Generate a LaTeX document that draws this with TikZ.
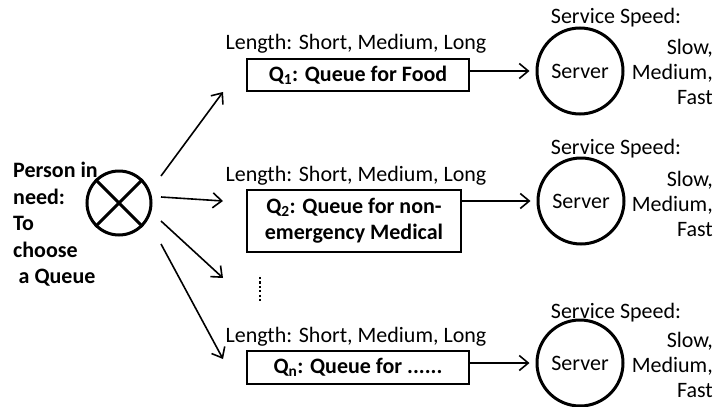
\documentclass[tikz,border=0pt]{standalone}
\usepackage{fontspec}
\setmainfont{Carlito}
\usetikzlibrary{arrows.meta}
\begin{document}
\begin{tikzpicture}[x=1pt,y=-1pt,
  every node/.style={font=\fontsize{22}{26}\selectfont, inner sep=0pt},
  qbox/.style={draw, line width=2pt, font=\fontsize{22}{26}\selectfont\bfseries, align=center, anchor=north west},
  srv/.style={draw, circle, line width=3pt, minimum size=86pt},
  lbl/.style={anchor=center},
  spd/.style={align=right, anchor=north east, font=\fontsize{22}{25}\selectfont},
  arr/.style={line width=1.6pt, -{Straight Barb[length=9pt,width=15pt,line width=1.6pt]}}
]
\useasboundingbox (0,0) rectangle (718,407);
% chooser
\node[draw, circle, line width=3pt, minimum size=64pt] (c) at (119,203) {};
\draw[line width=3pt] (c.north west) -- (c.south east) (c.north east) -- (c.south west);
\node[anchor=north west, align=left, font=\fontsize{22}{26.5}\selectfont\bfseries] (p) at (13,162)
  {Person in\\need:\\To\\choose\\\hspace{0.25em}a Queue};
% queue boxes
\node[qbox, minimum width=222pt, minimum height=32pt] (q1) at (246,58) {Q\textsubscript{1}: Queue for Food};
\node[qbox, minimum width=214pt, minimum height=62pt] (q2) at (246,189) {Q\textsubscript{2}: Queue for non-\\emergency Medical};
\node[qbox, minimum width=222pt, minimum height=33pt] (qn) at (246,350) {Q\textsubscript{n}: Queue for ......};
\node[lbl] (l1) at (356,44) {Length: Short, Medium, Long};
\node[lbl] (l2) at (356,176) {Length: Short, Medium, Long};
\node[lbl] (ln) at (356,337) {Length: Short, Medium, Long};
% dots
\coordinate (d1) at (260,277);
\coordinate (d2) at (260,301);
\draw[line width=2.4pt, dash pattern=on 2.2pt off 2.2pt] (d1) -- (d2);
% arrows from chooser
\coordinate (a1s) at (161,176); \coordinate (a1e) at (223,92);
\coordinate (a2s) at (161,197); \coordinate (a2e) at (223,201);
\coordinate (a3s) at (161,221); \coordinate (a3e) at (223,278);
\coordinate (a4s) at (161,244); \coordinate (a4e) at (223,359);
\draw[arr] (a1s) -- (a1e);
\draw[arr] (a2s) -- (a2e);
\draw[arr] (a3s) -- (a3e);
\draw[arr] (a4s) -- (a4e);
% servers
\node[srv] (s1) at (580,71) {Server};
\node[srv] (s2) at (581,201) {Server};
\node[srv] (s3) at (580,363) {Server};
\draw[arr, shorten >=6pt] (q1.east |- s1) -- (s1.west);
\draw[arr, shorten >=6pt] (q2.east |- s2) -- (s2.west);
\draw[arr, shorten >=6pt] (qn.east |- s3) -- (s3.west);
% speeds
\node[lbl] (t1) at (616,18) {Service Speed:};
\node[spd] (v1) at (713,39) {Slow,\\Medium,\\Fast};
\node[lbl] (t2) at (616,149) {Service Speed:};
\node[spd] (v2) at (713,171) {Slow,\\Medium,\\Fast};
\node[lbl] (t3) at (616,313) {Service Speed:};
\node[spd] (v3) at (713,332) {Slow,\\Medium,\\Fast};
\end{tikzpicture}
\end{document}
